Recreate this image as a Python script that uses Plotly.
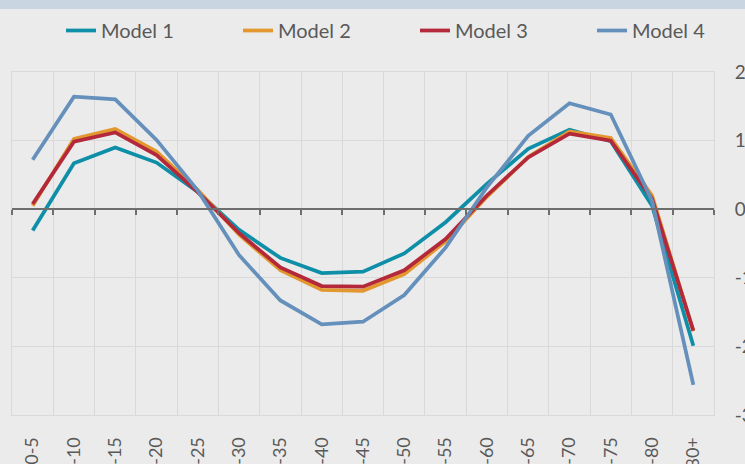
import plotly.graph_objects as go

# Age bands along the horizontal axis
age_bands = ["0-5", "6-10", "11-15", "16-20", "21-25", "26-30", "31-35", "36-40",
             "41-45", "46-50", "51-55", "56-60", "61-65", "66-70", "71-75", "76-80", "80+"]

# Values per model for each age band
model_1 = [-0.31, 0.67, 0.90, 0.68, 0.25, -0.30, -0.71, -0.93, -0.91, -0.645, -0.19,
           0.37, 0.88, 1.16, 0.99, 0.05, -1.99]
model_2 = [0.05, 1.025, 1.17, 0.84, 0.28, -0.37, -0.89, -1.175, -1.19, -0.945, -0.47,
           0.18, 0.76, 1.135, 1.04, 0.20, -1.78]
model_3 = [0.075, 0.985, 1.12, 0.79, 0.25, -0.35, -0.85, -1.12, -1.13, -0.89, -0.435,
           0.20, 0.755, 1.10, 1.00, 0.15, -1.77]
model_4 = [0.72, 1.64, 1.60, 1.01, 0.27, -0.67, -1.33, -1.68, -1.64, -1.25, -0.56,
           0.32, 1.07, 1.545, 1.38, 0.12, -2.56]

series = [
    ("Model 1", model_1, "#0F8FA7"),
    ("Model 2", model_2, "#E2982F"),
    ("Model 3", model_3, "#B3283A"),
    ("Model 4", model_4, "#6590BB"),
]

y_ticks = [2, 1, 0, -1, -2, -3]
y_min, y_max = -3, 2

FONT = "Lato"
TEXT_GREY = "#595959"
GRID = "#D9D9D9"
BG = "#EBEBEB"

fig = go.Figure()
for i, (name, vals, color) in enumerate(series):
    fig.add_trace(go.Scatter(
        x=age_bands, y=vals, name=name, mode="lines",
        line=dict(color=color, width=3.75),
        # last legend entry only needs room for its own text
        legendwidth=80 if i == len(series) - 1 else None,
    ))

# Invisible helper trace so the zero-line axis is rendered
n = len(age_bands)
fig.add_trace(go.Scatter(
    x=list(range(n)), y=[0] * n, xaxis="x2", mode="none",
    showlegend=False, hoverinfo="skip",
))

fig.update_layout(
    width=745, height=464,
    margin=dict(l=12, r=31, t=72, b=49),
    paper_bgcolor=BG, plot_bgcolor=BG,
    font=dict(family=FONT, color=TEXT_GREY),
    showlegend=True,
    legend=dict(
        orientation="h",
        xref="container", yref="container",
        x=61 / 745, y=1 - 11 / 464, xanchor="left", yanchor="top",
        font=dict(family=FONT, size=20, color=TEXT_GREY),
        entrywidth=132, entrywidthmode="pixels",
        bgcolor="rgba(0,0,0,0)",
    ),
    xaxis=dict(
        type="category",
        range=[-0.5, n - 0.5],
        tickson="boundaries",
        showgrid=True, gridcolor=GRID, gridwidth=1,
        showline=True, mirror=True, linecolor=GRID, linewidth=1,
        ticks="", tickangle=-90,
        tickfont=dict(family=FONT, size=18, color=TEXT_GREY),
        ticklabelstandoff=14,
        automargin=False,
    ),
    xaxis2=dict(
        overlaying="x", anchor="free",
        position=(0 - y_min) / (y_max - y_min),
        range=[-0.5, n - 0.5],
        tickmode="array",
        tickvals=[i - 0.5 for i in range(n + 1)],
        showticklabels=False,
        showgrid=False, zeroline=False,
        showline=True, linecolor="#6E6E6E", linewidth=1.5,
        ticks="outside", ticklen=5, tickcolor="#6E6E6E", tickwidth=1.5,
    ),
    yaxis=dict(
        side="right",
        range=[y_min, y_max],
        tickmode="array", tickvals=y_ticks,
        ticktext=[str(v) for v in y_ticks],
        showgrid=True, gridcolor=GRID, gridwidth=1,
        zeroline=False,
        showline=True, mirror=True, linecolor=GRID, linewidth=1,
        ticks="",
        tickfont=dict(family=FONT, size=19, color=TEXT_GREY),
        ticklabelstandoff=16,
        automargin=False,
    ),
    shapes=[
        dict(type="rect", xref="paper", yref="paper",
             x0=-0.1, x1=1.1, y0=1 + 63 / 343, y1=1.3,
             fillcolor="#CAD5E2", line=dict(width=0), layer="above"),
    ],
)

fig.write_html("out.html")
